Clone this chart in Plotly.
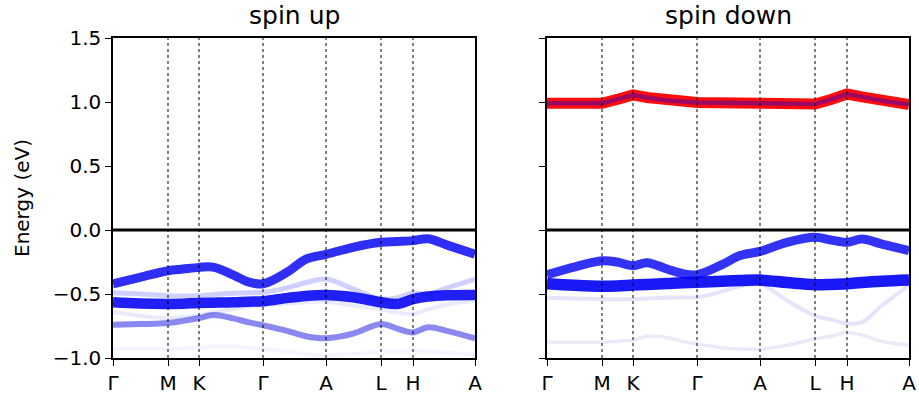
import plotly.graph_objects as go

# ---- k-path (high-symmetry points) ----
kpath_pos = [0, 55, 86, 150, 213, 268, 300, 362]
kpath_labels = ["Γ", "M", "K", "Γ", "A", "L", "H", "A"]

# common k grid on which band energies were read
kgrid = [0, 27, 55, 70, 86, 100, 120, 135, 150, 175, 193, 213, 240, 268, 284, 300, 315, 335, 362]

# ---- spin up bands (eV) ----
up_band_a = [-0.42, -0.37, -0.318, -0.305, -0.292, -0.29, -0.35, -0.405, -0.42, -0.325, -0.227,
             -0.19, -0.135, -0.096, -0.09, -0.083, -0.068, -0.12, -0.19]
up_band_b = [-0.565, -0.575, -0.578, -0.576, -0.57, -0.568, -0.565, -0.56, -0.557, -0.53, -0.515,
             -0.508, -0.525, -0.565, -0.578, -0.54, -0.52, -0.51, -0.508]
up_band_c = [-0.74, -0.735, -0.727, -0.71, -0.688, -0.665, -0.69, -0.72, -0.745, -0.79, -0.83,
             -0.846, -0.81, -0.734, -0.77, -0.80, -0.76, -0.79, -0.846]
up_band_d = [-0.49, -0.50, -0.513, -0.515, -0.513, -0.505, -0.495, -0.49, -0.487, -0.45, -0.41,
             -0.383, -0.46, -0.54, -0.53, -0.49, -0.50, -0.45, -0.383]
up_band_e = [-0.64, -0.67, -0.69, -0.68, -0.665, -0.645, -0.62, -0.60, -0.59, -0.575, -0.565,
             -0.56, -0.59, -0.62, -0.645, -0.655, -0.62, -0.58, -0.555]
up_band_f = [-0.93, -0.93, -0.93, -0.925, -0.92, -0.91, -0.91, -0.92, -0.93, -0.95, -0.97,
             -0.98, -0.97, -0.95, -0.95, -0.94, -0.95, -0.96, -0.97]

# ---- spin down bands (eV) ----
dn_band_a = [-0.349, -0.29, -0.24, -0.25, -0.279, -0.255, -0.305, -0.34, -0.349, -0.27, -0.2,
             -0.167, -0.096, -0.057, -0.078, -0.096, -0.07, -0.11, -0.161]
dn_band_b = [-0.42, -0.432, -0.44, -0.438, -0.43, -0.425, -0.418, -0.412, -0.409, -0.40, -0.395,
             -0.391, -0.41, -0.427, -0.425, -0.42, -0.41, -0.40, -0.391]
dn_band_g = [-0.53, -0.535, -0.54, -0.542, -0.54, -0.535, -0.53, -0.527, -0.526, -0.48, -0.44,
             -0.42, -0.55, -0.67, -0.70, -0.73, -0.72, -0.59, -0.43]
dn_band_i = [-0.877, -0.877, -0.877, -0.87, -0.86, -0.83, -0.84, -0.87, -0.89, -0.92, -0.93,
             -0.93, -0.90, -0.85, -0.83, -0.80, -0.82, -0.87, -0.90]

# spin down conduction band (red)
dn_cb_k = [0, 55, 70, 86, 100, 120, 150, 213, 268, 284, 300, 315, 335, 362]
dn_cb_e = [0.99, 0.99, 1.02, 1.055, 1.035, 1.012, 0.997, 0.99, 0.984, 1.02, 1.0625, 1.04, 1.01, 0.98]

yticks = [-1.0, -0.5, 0.0, 0.5, 1.0, 1.5]
ytick_text = ["−1.0", "−0.5", "0.0", "0.5", "1.0", "1.5"]

FONT = "DejaVu Sans"
fig = go.Figure()


def band(x, y, width, color, xa, ya, shape="spline"):
    line = dict(color=color, width=width, shape=shape)
    if shape == "spline":
        line["smoothing"] = 1.0
    fig.add_trace(go.Scatter(x=x, y=y, mode="lines", line=line,
                             xaxis=xa, yaxis=ya, showlegend=False, hoverinfo="skip"))


# spin up (left)
band(kgrid, up_band_f, 4, "rgba(90,90,255,0.06)", "x", "y")
band(kgrid, up_band_e, 4, "rgba(60,60,255,0.11)", "x", "y")
band(kgrid, up_band_d, 5, "rgba(40,40,255,0.22)", "x", "y")
band(kgrid, up_band_c, 6, "rgba(40,40,230,0.55)", "x", "y")
band(kgrid, up_band_b, 10.5, "rgba(0,0,245,0.88)", "x", "y")
band(kgrid, up_band_a, 9, "rgba(0,0,245,0.82)", "x", "y")

# spin down (right)
band(kgrid, dn_band_i, 3.5, "rgba(110,70,210,0.12)", "x2", "y2")
band(kgrid, dn_band_g, 4, "rgba(80,60,230,0.14)", "x2", "y2")
band(kgrid, dn_band_b, 11.5, "rgba(0,0,245,0.9)", "x2", "y2")
band(kgrid, dn_band_a, 9, "rgba(0,0,245,0.8)", "x2", "y2")
band(dn_cb_k, dn_cb_e, 11, "rgba(255,0,0,0.95)", "x2", "y2", shape="linear")
band(dn_cb_k, dn_cb_e, 4.5, "rgba(40,0,200,0.45)", "x2", "y2", shape="linear")

shapes = []
for xr, yr in (("x", "y"), ("x2", "y2")):
    for kp in kpath_pos[1:-1]:
        shapes.append(dict(type="line", xref=xr, yref=yr + " domain", x0=kp, x1=kp, y0=0, y1=1,
                           line=dict(color="black", width=1, dash="dot"), layer="above"))
    shapes.append(dict(type="line", xref=xr + " domain", yref=yr, x0=0, x1=1, y0=0, y1=0,
                       line=dict(color="black", width=2.8), layer="above"))

W, H = 919, 398
ml, mr, mt, mb = 113, 10, 38, 40
pw = W - ml - mr
left_dom = [0, 362 / pw]
right_dom = [(547 - ml) / pw, 1]

axis_common = dict(showline=True, linecolor="black", linewidth=1.5, mirror=True,
                   ticks="outside", ticklen=6, tickwidth=1.2, tickcolor="black", automargin=False,
                   showgrid=False, zeroline=False, tickfont=dict(family=FONT, size=20, color="black"))

fig.update_layout(
    width=W, height=H,
    margin=dict(l=ml, r=mr, t=mt, b=mb, autoexpand=False),
    paper_bgcolor="white", plot_bgcolor="white",
    xaxis=dict(domain=left_dom, range=[kpath_pos[0], kpath_pos[-1]], tickvals=kpath_pos,
               ticktext=kpath_labels, anchor="y", **axis_common),
    xaxis2=dict(domain=right_dom, range=[kpath_pos[0], kpath_pos[-1]], tickvals=kpath_pos,
                ticktext=kpath_labels, anchor="y2", **axis_common),
    yaxis=dict(domain=[0, 1], range=[-1.0, 1.5], tickvals=yticks, ticktext=ytick_text,
               anchor="x", **axis_common),
    yaxis2=dict(domain=[0, 1], range=[-1.0, 1.5], tickvals=yticks, showticklabels=False,
                anchor="x2", **axis_common),
    shapes=shapes,
    annotations=[
        dict(text="spin up", xref="paper", yref="paper", x=(left_dom[0] + left_dom[1]) / 2, y=1.07,
             xanchor="center", yanchor="middle", showarrow=False, font=dict(family=FONT, size=25, color="black")),
        dict(text="spin down", xref="paper", yref="paper", x=(right_dom[0] + right_dom[1]) / 2, y=1.07,
             xanchor="center", yanchor="middle", showarrow=False, font=dict(family=FONT, size=25, color="black")),
        dict(text="Energy (eV)", xref="paper", yref="paper", x=(22 - ml) / pw, y=0.5, textangle=-90,
             xanchor="center", yanchor="middle", showarrow=False, font=dict(family=FONT, size=20, color="black")),
    ],
)

fig.write_html("out.html")
